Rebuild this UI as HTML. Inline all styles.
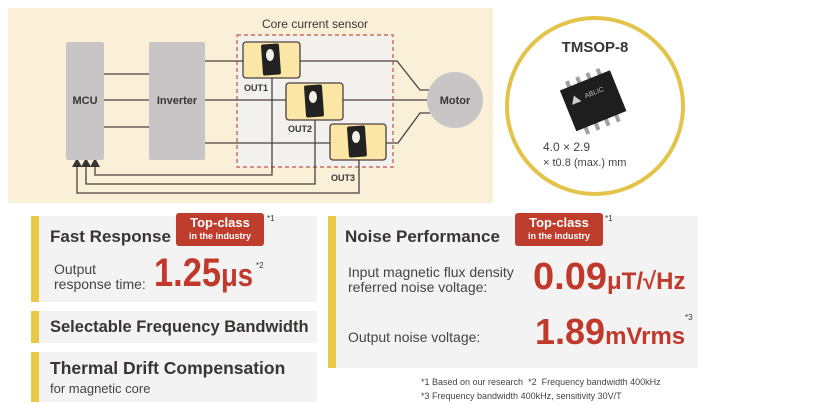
<!DOCTYPE html>
<html><head><meta charset="utf-8"><style>
body{margin:0;width:825px;height:404px;background:#fff;position:relative;overflow:hidden;font-family:"Liberation Sans",sans-serif;color:#3a3535}
.a{position:absolute}
.panel{position:absolute;background:#f3f3f3;border-left:8px solid #e9c948;box-sizing:border-box}
.h{position:absolute;font-weight:bold;font-size:17px;color:#3a3535;white-space:nowrap}
.badge{position:absolute;background:#bf3d2c;color:#fff;border-radius:3px;text-align:center;font-weight:bold;line-height:1}
.red{position:absolute;color:#c0392b;font-weight:bold;white-space:nowrap}
.t{position:absolute;font-size:14px;line-height:15px;color:#444;white-space:nowrap}
</style></head><body>
<svg class="a" style="left:0;top:0" width="825" height="210" xmlns="http://www.w3.org/2000/svg">
<rect x="8" y="8" width="485" height="195" fill="#faf0d8"/>
<rect x="237" y="35" width="156" height="132" fill="#f3f1ed" stroke="#c0504d" stroke-width="1.2" stroke-dasharray="4,3"/>
<g stroke="#4a4040" stroke-width="1.3" fill="none">
<line x1="104" y1="74" x2="149" y2="74"/><line x1="104" y1="100" x2="149" y2="100"/><line x1="104" y1="127" x2="149" y2="127"/>
<polyline points="205,61 397,61 420,90 430,90"/>
<line x1="205" y1="100" x2="430" y2="100"/>
<polyline points="205,143 398,143 420,113 430,113"/>
<polyline points="272,78 272,175 95,175 95,165"/>
<polyline points="315,120 315,184 86,184 86,165"/>
<polyline points="359,160 359,193 77,193 77,165"/>
</g>
<g fill="#3a3535"><polygon points="72,167 82,167 77,158"/><polygon points="81,167 91,167 86,158"/><polygon points="90,167 100,167 95,158"/></g>
<rect x="66" y="42" width="38" height="118" rx="2" fill="#c7c5c6"/>
<rect x="149" y="42" width="56" height="118" rx="2" fill="#c7c5c6"/>
<circle cx="455" cy="100" r="28" fill="#c7c5c6"/>
<g font-family="Liberation Sans,sans-serif" font-weight="bold" font-size="11" fill="#3a3535" text-anchor="middle">
<text x="85" y="104">MCU</text><text x="177" y="104">Inverter</text><text x="455" y="104">Motor</text>
<text x="256" y="91" font-size="9">OUT1</text><text x="300" y="132" font-size="9">OUT2</text><text x="343" y="181" font-size="9">OUT3</text>
</g>
<text x="315" y="28" font-family="Liberation Sans,sans-serif" font-size="12" fill="#3a3535" text-anchor="middle">Core current sensor</text>
<g stroke="#4a4040" stroke-width="1.3">
<rect x="243" y="42" width="57" height="36" rx="3" fill="#fbe6a6"/>
<rect x="286" y="83" width="57" height="37" rx="3" fill="#fbe6a6"/>
<rect x="330" y="124" width="56" height="36" rx="3" fill="#fbe6a6"/>
</g>
<g fill="#222">
<rect x="262" y="44" width="18" height="31" rx="2" transform="rotate(-4 271 60)"/>
<rect x="305" y="85" width="18" height="32" rx="2" transform="rotate(-4 314 101)"/>
<rect x="348" y="126" width="18" height="31" rx="2" transform="rotate(-4 357 142)"/>
</g>
<g fill="#f3f0e8"><ellipse cx="270" cy="55" rx="4" ry="6"/><ellipse cx="313" cy="97" rx="4" ry="6"/><ellipse cx="356" cy="137" rx="4" ry="6"/></g>
<circle cx="595" cy="106" r="88" fill="#fff" stroke="#e3c34a" stroke-width="4"/>
<text x="595" y="52" font-family="Liberation Sans,sans-serif" font-weight="bold" font-size="15" fill="#3a3535" text-anchor="middle">TMSOP-8</text>
<g transform="rotate(-22 595 100)">
<g fill="#a0a0a0"><rect x="574" y="72" width="4" height="8"/><rect x="585" y="72" width="4" height="8"/><rect x="596" y="72" width="4" height="8"/><rect x="607" y="72" width="4" height="8"/>
<rect x="574" y="120" width="4" height="9"/><rect x="585" y="120" width="4" height="9"/><rect x="596" y="120" width="4" height="9"/><rect x="607" y="120" width="4" height="9"/></g>
<rect x="566" y="78" width="54" height="44" fill="#1e1e1e"/>
<polygon points="572,96 577,88 582,96" fill="#ccc"/>
<text x="597" y="95" font-family="Liberation Sans,sans-serif" font-size="7" fill="#bbb" text-anchor="middle">ABLIC</text>
</g>
<text x="543" y="151" font-family="Liberation Sans,sans-serif" font-size="12" fill="#444">4.0 × 2.9</text>
<text x="543" y="166" font-family="Liberation Sans,sans-serif" font-size="11" fill="#444">× t0.8 (max.) mm</text>
</svg>

<div class="panel" style="left:31px;top:216px;width:286px;height:86px"></div>
<div class="h" style="left:50px;top:227px">Fast Response</div>
<div class="badge" style="left:176px;top:213px;width:88px;height:33px"><div style="font-size:13px;margin-top:3px">Top-class</div><div style="font-size:9px;margin-top:3px">in the industry</div></div>
<div class="a" style="left:267px;top:214px;font-size:8px">*1</div>
<div class="t" style="left:54px;top:262px">Output<br>response time:</div>
<div class="red" style="left:154px;top:253px;font-size:40px;line-height:40px;transform:scaleX(0.86);transform-origin:left">1.25<span style="font-size:32px">μs</span></div>
<div class="a" style="left:256px;top:261px;font-size:8px">*2</div>
<div class="panel" style="left:31px;top:311px;width:286px;height:32px"></div>
<div class="h" style="left:50px;top:318px;font-size:16.5px">Selectable Frequency Bandwidth</div>
<div class="panel" style="left:31px;top:352px;width:286px;height:50px"></div>
<div class="h" style="left:50px;top:358px;font-size:17.5px">Thermal Drift Compensation</div>
<div class="t" style="left:50px;top:381px;font-size:13px">for magnetic core</div>

<div class="panel" style="left:328px;top:216px;width:370px;height:152px"></div>
<div class="h" style="left:345px;top:227px">Noise Performance</div>
<div class="badge" style="left:515px;top:213px;width:88px;height:33px"><div style="font-size:13px;margin-top:3px">Top-class</div><div style="font-size:9px;margin-top:3px">in the industry</div></div>
<div class="a" style="left:605px;top:214px;font-size:8px">*1</div>
<div class="t" style="left:348px;top:265px">Input magnetic flux density<br>referred noise voltage:</div>
<div class="red" style="left:533px;top:257px;font-size:38px;line-height:40px">0.09<span style="font-size:24px">μT/√Hz</span></div>
<div class="t" style="left:348px;top:330px">Output noise voltage:</div>
<div class="red" style="left:535px;top:312px;font-size:36px;line-height:40px">1.89<span style="font-size:24px">mVrms</span></div>
<div class="a" style="left:685px;top:313px;font-size:8px">*3</div>
<div class="a" style="left:421px;top:377px;font-size:9px;color:#444;white-space:nowrap">*1 Based on our research&nbsp;&nbsp;*2&nbsp; Frequency bandwidth 400kHz</div>
<div class="a" style="left:421px;top:391px;font-size:9px;color:#444;white-space:nowrap">*3 Frequency bandwidth 400kHz, sensitivity 30V/T</div>
</body></html>
